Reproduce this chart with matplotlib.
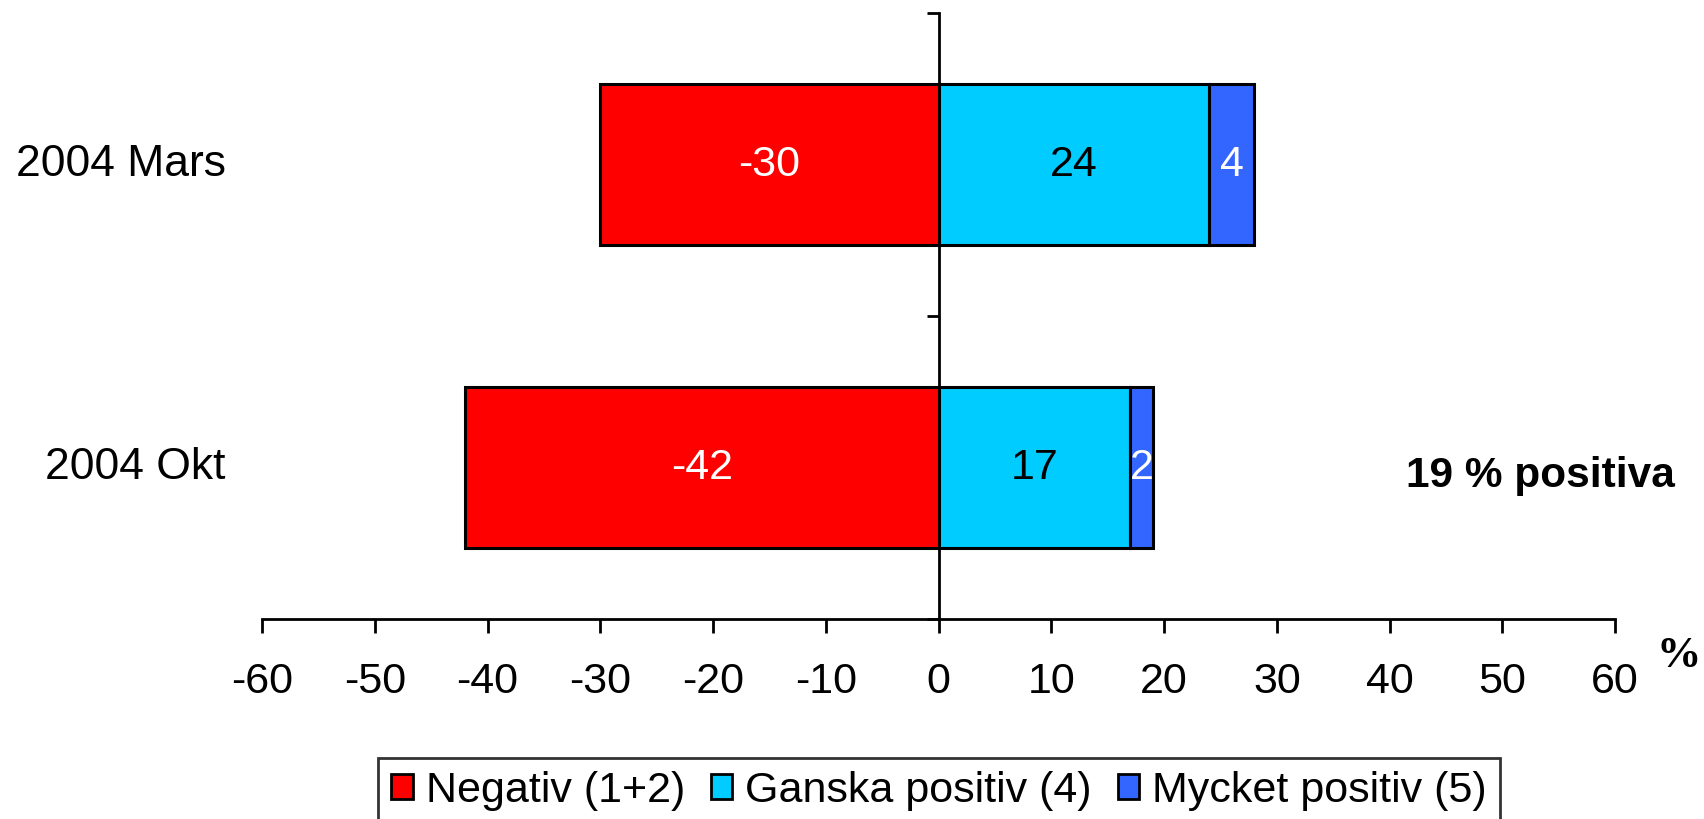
import matplotlib.pyplot as plt
from matplotlib.patches import Patch
import matplotlib.transforms as mtransforms

plt.rcParams['font.family'] = ['Liberation Sans', 'DejaVu Sans']

# data
periods = ['2004 Okt', '2004 Mars']
negativ = [-42, -30]
ganska = [17, 24]
mycket = [2, 4]
series_names = ['Negativ (1+2)', 'Ganska positiv (4)', 'Mycket positiv (5)']
colors = ['#FF0000', '#00CCFF', '#3366FF']
label_colors = ['white', 'black', 'white']
xticks = list(range(-60, 61, 10))

fig = plt.figure(figsize=(17.04, 8.19), dpi=100)
ax = fig.add_axes([0.1538, 0.2442, 0.7940, 0.7399])

ypos = [0.5, 1.5]
h = 0.53
ax.barh(ypos, negativ, height=h, color=colors[0], edgecolor='black', linewidth=2.2)
ax.barh(ypos, ganska, height=h, color=colors[1], edgecolor='black', linewidth=2.2)
ax.barh(ypos, mycket, left=ganska, height=h, color=colors[2], edgecolor='black', linewidth=2.2)

# value labels
for i, y in enumerate(ypos):
    ax.text(negativ[i] / 2, y, str(negativ[i]), ha='center', va='center',
            color=label_colors[0], fontsize=31)
    ax.text(ganska[i] / 2, y, str(ganska[i]), ha='center', va='center',
            color=label_colors[1], fontsize=31)
    ax.text(ganska[i] + mycket[i] / 2, y, str(mycket[i]), ha='center', va='center',
            color=label_colors[2], fontsize=31)

ax.set_xlim(-60, 60)
ax.set_ylim(0, 2)
ax.set_xticks(xticks)
ax.set_xticklabels([str(t) for t in xticks], fontsize=31)
ax.tick_params(axis='x', direction='out', length=10, width=2, pad=21)
ax.set_yticks([0, 1, 2])
ax.set_yticklabels([])
ax.tick_params(axis='y', direction='out', length=9, width=2)

for s in ['top', 'right']:
    ax.spines[s].set_visible(False)
ax.spines['left'].set_position(('data', 0))
ax.spines['left'].set_linewidth(2)
ax.spines['bottom'].set_linewidth(2)

# category labels on the left
trans = mtransforms.blended_transform_factory(ax.transAxes, ax.transData)
for y, p in zip(ypos, periods):
    ax.text(-0.027, y, p, transform=trans, ha='right', va='center', fontsize=32)

fig.text(0.9038, 0.419, '19 % positiva', ha='center', va='center',
         fontsize=30.5, fontweight='bold')
fig.text(0.9850, 0.2234, '%', ha='center', va='top', fontsize=32,
         fontweight='bold', family='Liberation Serif')

handles = [Patch(facecolor=c, edgecolor='black', linewidth=2) for c in colors]
leg = fig.legend(handles, series_names, loc='upper center', ncol=3,
                 bbox_to_anchor=(0.551, 0.0745), fontsize=31, frameon=True,
                 fancybox=False, edgecolor='black', handlelength=0.5,
                 handleheight=0.5, handletextpad=0.3, columnspacing=0.6,
                 borderpad=0.3, borderaxespad=0)
leg.get_frame().set_linewidth(2)

fig.savefig('out.png', dpi=100)
